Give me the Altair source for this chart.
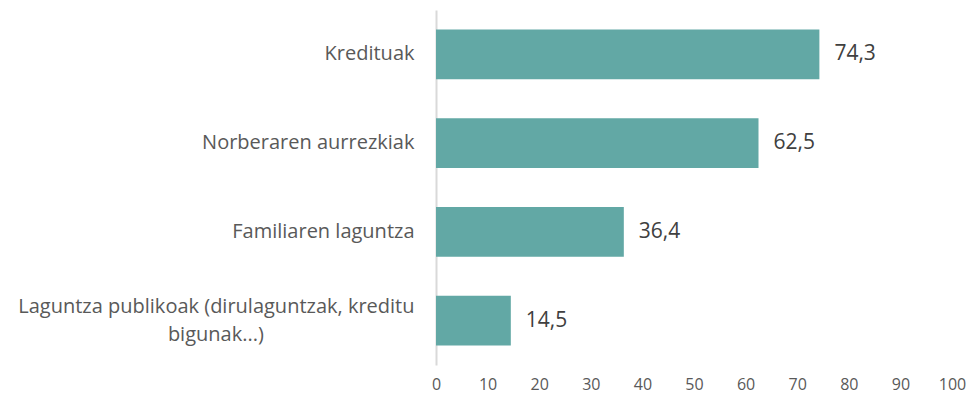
import altair as alt
import pandas as pd

categories = [
    "Kredituak",
    "Norberaren aurrezkiak",
    "Familiaren laguntza",
    "Laguntza publikoak (dirulaguntzak, kreditu\nbigunak...)",
]
values = [74.3, 62.5, 36.4, 14.5]

df = pd.DataFrame({"cat": categories, "v": values})

FONT = "Open Sans"
# pad the wrapped second line so it sits centred under the first line
PAD = "\u00a0" * 29 + "\u200b"

label_expr = (
    "indexof(datum.label, '\\n') >= 0 ? "
    "[split(datum.label, '\\n')[0], split(datum.label, '\\n')[1] + '" + PAD + "'] "
    ": datum.label"
)

base = alt.Chart(df).encode(
    y=alt.Y(
        "cat:N",
        sort=categories,
        title=None,
        scale=alt.Scale(paddingInner=0.44, paddingOuter=0.22),
        axis=alt.Axis(
            labelFontSize=20,
            labelColor="#595959",
            labelFont=FONT,
            labelPadding=22,
            labelLimit=600,
            ticks=False,
            domainColor="#D9D9D9",
            domainWidth=2,
            labelExpr=label_expr,
            labelLineHeight=28,
            labelOffset={
                "condition": {"test": "indexof(datum.value, '\\n') >= 0", "value": -14},
                "value": 0,
            },
        ),
    ),
    x=alt.X(
        "v:Q",
        title=None,
        scale=alt.Scale(domain=[0, 100]),
        axis=alt.Axis(
            values=list(range(0, 101, 10)),
            labelFontSize=16,
            labelColor="#595959",
            labelFont=FONT,
            labelFlush=False,
            labelOverlap=False,
            ticks=False,
            domain=False,
            grid=False,
            labelPadding=11,
        ),
    ),
)

bars = base.mark_bar(color="#62A8A5")
text = base.mark_text(
    align="left", dx=15, fontSize=21, color="#404040", font=FONT
).transform_calculate(
    lbl="replace(format(datum.v, '.1f'), '.', ',')"
).encode(text="lbl:N")

chart = (
    (bars + text)
    .properties(
        width=516,
        height=355,
        background="white",
        autosize=alt.AutoSizeParams(type="none"),
        padding={"left": 428, "top": 2, "right": 16, "bottom": 29},
    )
    .configure_view(stroke=None, strokeWidth=0)
)

chart.save("out.html", embed_options={"renderer": "svg", "actions": False})
